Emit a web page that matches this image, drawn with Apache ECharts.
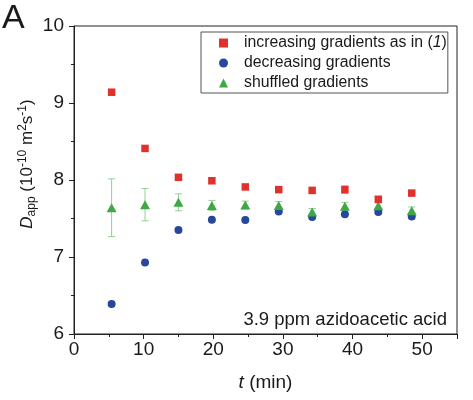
<!DOCTYPE html>
<html>
<head>
<meta charset="utf-8">
<script src="https://cdn.jsdelivr.net/npm/echarts@6/dist/echarts.min.js"></script>
<style>
html,body{margin:0;padding:0;background:#fff;}
#chart{width:473px;height:400px;}
</style>
</head>
<body>
<div id="chart"></div>
<script>
var times = [5.4, 10.2, 15.0, 19.8, 24.6, 29.4, 34.2, 38.9, 43.7, 48.5];
var increasing = [9.14, 8.41, 8.035, 7.99, 7.91, 7.875, 7.865, 7.875, 7.75, 7.83];
var increasingErr = [0, 0, 0, 0, 0, 0, 0, 0.05, 0, 0];
var decreasing = [6.39, 6.93, 7.35, 7.485, 7.48, 7.59, 7.52, 7.555, 7.585, 7.525];
var shuffled = [7.64, 7.68, 7.71, 7.67, 7.675, 7.67, 7.585, 7.66, 7.665, 7.60];
var shuffledErr = [0.375, 0.21, 0.11, 0.065, 0.05, 0.05, 0.045, 0.05, 0.035, 0.05];
var xTicks = [0, 10, 20, 30, 40, 50];
var yTicks = [6, 7, 8, 9, 10];

var FONT = 'Liberation Sans, Arial, sans-serif';
var INK = '#1a1a1a';
var RED = '#e0322d', BLUE = '#26479c', GREEN = '#3ea845';

function pairs(ys) { return times.map(function (t, i) { return [t, ys[i]]; }); }
function errData(ys, es) {
  var out = [];
  times.forEach(function (t, i) { if (es[i] > 0) out.push([t, ys[i] - es[i], ys[i] + es[i]]); });
  return out;
}
function errRender(color) {
  return function (params, api) {
    var x = api.value(0);
    var lo = api.coord([x, api.value(1)]);
    var hi = api.coord([x, api.value(2)]);
    var w = 3.5;
    var st = { stroke: color, lineWidth: 1 };
    return {
      type: 'group',
      children: [
        { type: 'line', shape: { x1: lo[0], y1: lo[1], x2: hi[0], y2: hi[1] }, style: st },
        { type: 'line', shape: { x1: lo[0] - w, y1: lo[1], x2: lo[0] + w, y2: lo[1] }, style: st },
        { type: 'line', shape: { x1: hi[0] - w, y1: hi[1], x2: hi[0] + w, y2: hi[1] }, style: st }
      ]
    };
  };
}

var chart = echarts.init(document.getElementById('chart'));
chart.setOption({
  animation: false,
  backgroundColor: '#fff',
  grid: { left: 74, right: 16, top: 26, bottom: 66, show: true, borderColor: '#222', borderWidth: 1 },
  xAxis: {
    type: 'value', min: 0, max: 55, interval: 10,
    axisLine: { lineStyle: { color: '#222', width: 1 } },
    axisTick: { length: 5, lineStyle: { color: '#222' } },
    minorTick: { show: true, splitNumber: 2, length: 3, lineStyle: { color: '#222' } },
    splitLine: { show: false },
    axisLabel: {
      color: INK, fontSize: 19, fontFamily: FONT, margin: 6,
      formatter: function (v) { return xTicks.indexOf(v) >= 0 ? String(v) : ''; }
    },
    name: '{i|t} (min)',
    nameLocation: 'middle', nameGap: 39,
    nameTextStyle: { color: INK, fontSize: 19, fontFamily: FONT,
      rich: { i: { fontStyle: 'italic', fontSize: 19, fontFamily: FONT, color: INK } } }
  },
  yAxis: {
    type: 'value', min: 6, max: 10, interval: 1,
    axisLine: { show: true, lineStyle: { color: '#222', width: 1 } },
    axisTick: { show: true, length: 5, lineStyle: { color: '#222' } },
    minorTick: { show: true, splitNumber: 2, length: 3, lineStyle: { color: '#222' } },
    splitLine: { show: false },
    axisLabel: {
      color: INK, fontSize: 19, fontFamily: FONT, margin: 10,
      formatter: function (v) { return yTicks.indexOf(v) >= 0 ? String(v) : ''; }
    }
  },
  legend: {
    orient: 'vertical', left: 201, top: 32,
    data: ['increasing gradients as in (1)', 'decreasing gradients', 'shuffled gradients'],
    borderColor: '#555', borderWidth: 1, borderRadius: 0,
    padding: [3, 1, 2, 18], itemGap: 4, itemWidth: 9, itemHeight: 9,
    textStyle: { color: INK, fontSize: 15.8, lineHeight: 16, fontFamily: FONT, padding: [0, 0, 0, 11],
      rich: {
        n: { fontSize: 15.8, lineHeight: 16, fontFamily: FONT, color: INK },
        it: { fontSize: 15.8, lineHeight: 16, fontFamily: FONT, color: INK, fontStyle: 'italic' }
      } },
    formatter: function (name) {
      if (name === 'increasing gradients as in (1)') return '{n|increasing gradients as in (}{it|1}{n|)}';
      return name;
    }
  },
  graphic: [
    { type: 'text', x: 2, y: 18.5,
      style: { text: 'A', fontSize: 34, fontFamily: FONT, fill: INK, align: 'left', verticalAlign: 'middle' } },
    { type: 'text', x: 27, y: 164, rotation: Math.PI / 2,
      style: {
        text: '{i|D}{sub|app}{n| (10}{sup|-10}{n| m}{sup|2}{n|s}{sup|-1}{n|)}',
        align: 'center', verticalAlign: 'middle',
        rich: {
          n: { fontSize: 17, fontFamily: FONT, fill: INK, lineHeight: 24 },
          i: { fontSize: 17, fontFamily: FONT, fill: INK, fontStyle: 'italic', lineHeight: 24 },
          sub: { fontSize: 12, fontFamily: FONT, fill: INK, lineHeight: 24, padding: [9, 0, 0, 0] },
          sup: { fontSize: 12, fontFamily: FONT, fill: INK, lineHeight: 24, padding: [0, 0, 9, 0] }
        }
      } },
    { type: 'text', x: 447, y: 320,
      style: { text: '3.9 ppm azidoacetic acid', align: 'right', verticalAlign: 'middle',
        fontSize: 18.5, fontFamily: FONT, fill: INK } }
  ],
  series: [
    { type: 'custom', name: 'shuffledErr', data: errData(shuffled, shuffledErr),
      renderItem: errRender('#93d093'), encode: { x: 0, y: [1, 2] }, z: 1, silent: true },
    { type: 'custom', name: 'incErr', data: errData(increasing, increasingErr),
      renderItem: errRender('#f0a0a0'), encode: { x: 0, y: [1, 2] }, z: 1, silent: true },
    { type: 'scatter', name: 'decreasing gradients', data: pairs(decreasing),
      symbol: 'circle', symbolSize: 8, itemStyle: { color: BLUE, opacity: 1 }, z: 2 },
    { type: 'scatter', name: 'shuffled gradients', data: pairs(shuffled),
      symbol: 'triangle', symbolSize: [10, 9], itemStyle: { color: GREEN, opacity: 1 }, z: 3 },
    { type: 'scatter', name: 'increasing gradients as in (1)', data: pairs(increasing),
      symbol: 'rect', symbolSize: 7.5, itemStyle: { color: RED, opacity: 1 }, z: 4 }
  ]
});
</script>
</body>
</html>
